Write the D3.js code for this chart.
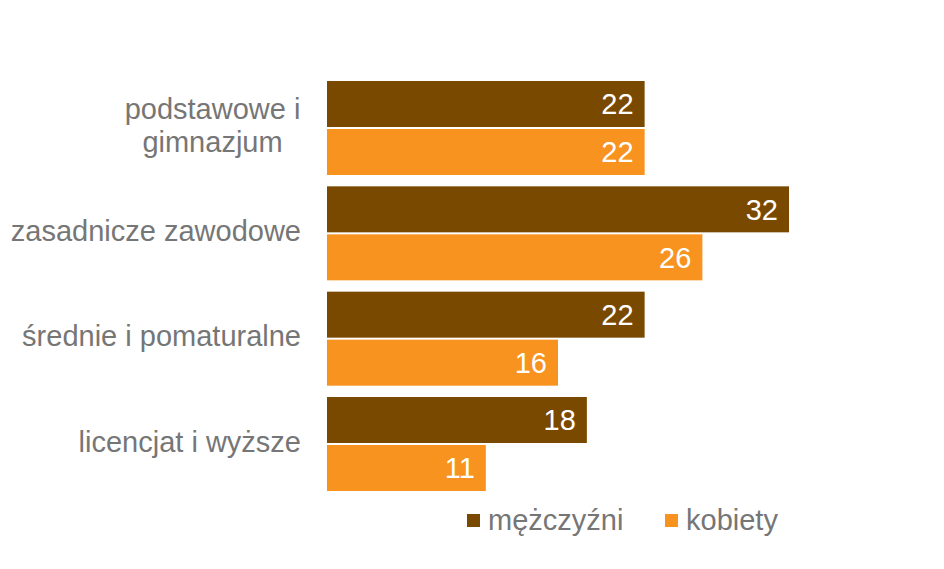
<!DOCTYPE html>
<html>
<head>
<meta charset="utf-8">
<script src="https://cdn.jsdelivr.net/npm/d3@7"></script>
<style>
  html, body { margin: 0; padding: 0; background: #fff; }
  svg { display: block; font-family: "Liberation Sans", Arial, sans-serif; }
</style>
</head>
<body>
<svg id="chart" width="944" height="569"></svg>
<script>
const categories = [["podstawowe i", "gimnazjum"], ["zasadnicze zawodowe"], ["średnie i pomaturalne"], ["licencjat i wyższe"]];
const seriesNames = ["mężczyźni", "kobiety"];
const men = [22, 32, 22, 18];
const women = [22, 26, 16, 11];
const colors = ["#7A4900", "#F7931E"];

const svg = d3.select("#chart");
const catKeys = categories.map(c => c.join(" "));
const values = [men, women];

const x = d3.scaleLinear().domain([0, 32]).range([327, 789]);
const y = d3.scaleBand().domain(catKeys).range([81, 491]).paddingInner(0.1076).paddingOuter(0);
const ys = d3.scaleBand().domain(seriesNames).range([0, y.bandwidth()]).paddingInner(2 / 48);

const textColor = "#767676";
const fs = 29;

// bars
catKeys.forEach((k, i) => {
  const g = svg.append("g").attr("transform", `translate(0,${y(k)})`);
  seriesNames.forEach((s, j) => {
    const v = values[j][i];
    g.append("rect")
      .attr("x", x(0))
      .attr("y", ys(s))
      .attr("width", x(v) - x(0))
      .attr("height", ys.bandwidth())
      .attr("fill", colors[j]);
    g.append("text")
      .attr("x", x(v) - 11)
      .attr("y", ys(s) + ys.bandwidth() / 2 + 10.5)
      .attr("text-anchor", "end")
      .attr("fill", "#fff")
      .attr("font-size", fs)
      .text(v);
  });
});

// category labels
categories.forEach((lines, i) => {
  const cy = y(catKeys[i]) + y.bandwidth() / 2;
  if (lines.length === 1) {
    svg.append("text")
      .attr("x", 301)
      .attr("y", cy + 7.5)
      .attr("text-anchor", "end")
      .attr("fill", textColor)
      .attr("font-size", fs)
      .text(lines[0]);
  } else {
    const lh = 33;
    lines.forEach((ln, li) => {
      svg.append("text")
        .attr("x", 212.5)
        .attr("y", cy + 7.5 + (li - (lines.length - 1) / 2) * lh)
        .attr("text-anchor", "middle")
        .attr("fill", textColor)
        .attr("font-size", fs)
        .text(ln);
    });
  }
});

// legend
const legendX = [467, 665];
seriesNames.forEach((s, j) => {
  svg.append("rect")
    .attr("x", legendX[j])
    .attr("y", 514)
    .attr("width", 13)
    .attr("height", 13)
    .attr("fill", colors[j]);
  svg.append("text")
    .attr("x", legendX[j] + 21)
    .attr("y", 530)
    .attr("fill", textColor)
    .attr("font-size", fs)
    .text(s);
});
</script>
</body>
</html>
